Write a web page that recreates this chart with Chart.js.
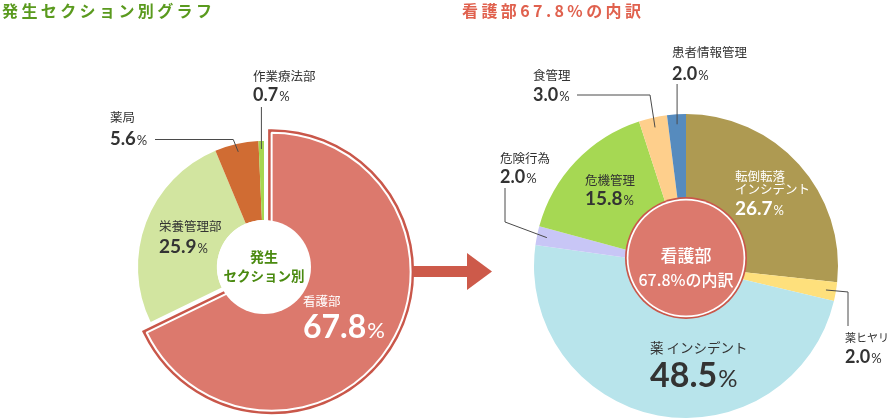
<!DOCTYPE html>
<html lang="ja">
<head>
<meta charset="utf-8">
<script src="https://cdn.jsdelivr.net/npm/chart.js@4.4.1/dist/chart.umd.min.js"></script>
<style>
  html, body { margin: 0; padding: 0; background: #fff; }
  #wrap { position: relative; width: 889px; height: 418px; overflow: hidden; }
  #wrap canvas { position: absolute; left: 0; top: 0; }
  .title { position: absolute; top: 0; font-family: "Noto Sans CJK JP", sans-serif; font-weight: 700;
           font-size: 16px; line-height: 20px; letter-spacing: 3.4px; white-space: nowrap; }
</style>
</head>
<body>
<div id="wrap">
  <canvas id="chartLeft" width="889" height="418"></canvas>
  <canvas id="chartRight" width="889" height="418"></canvas>
  <div class="title" id="titleLeft" style="left:2px; color:#5a9a1e;">発生セクション別グラフ</div>
  <div class="title" id="titleRight" style="left:462px; color:#e0614e;"></div>
</div>
<script>
// 発生セクション別
var sectionLabels = ["看護部", "栄養管理部", "薬局", "作業療法部"];
var sectionValues = [67.8, 25.9, 5.6, 0.7];
var sectionColors = ["#dc796d", "#d2e5a0", "#d06c33", "#a6d650"];

// 看護部の内訳
var nurseLabels = ["転倒転落\nインシデント", "薬ヒヤリ", "薬 インシデント", "危険行為", "危機管理", "食管理", "患者情報管理"];
var nurseValues = [26.7, 2.0, 48.5, 2.0, 15.8, 3.0, 2.0];
var nurseColors = ["#ae9a52", "#fee07c", "#b8e4eb", "#c8c6f6", "#a6d853", "#fecf8c", "#568bbe"];

// ラベルの位置 (レイアウト)
var leftLabelPos = [
  { x: 303, nameY: 306, valueY: 338, valueSize: 32, color: "#ffffff" },
  { x: 159, nameY: 231, valueY: 253, valueSize: 19, color: "#333333" },
  { x: 110, nameY: 122, valueY: 145, valueSize: 18.5, color: "#333333", leader: "side", lineX: 155, lineY: 139.5 },
  { x: 253, nameY: 81, valueY: 101, valueSize: 18, color: "#333333", leader: "up", lineY: 107 }
];
var rightLabelPos = [
  { x: 735, nameY: 181, valueY: 215, valueSize: 19, color: "#ffffff" },
  { x: 845, nameY: 342, valueY: 363, valueSize: 18, color: "#333333", nameSize: 11, leader: "right", lineX: 848, lineY: 326 },
  { x: 650, nameY: 353, valueY: 387, valueSize: 34, color: "#333333", nameSize: 13.5 },
  { x: 500, nameY: 163, valueY: 183, valueSize: 18, color: "#333333", leader: "down", lineX: 505, lineY: 188, lineY2: 222 },
  { x: 585, nameY: 185, valueY: 205, valueSize: 19, color: "#333333" },
  { x: 533, nameY: 80, valueY: 101, valueSize: 18, color: "#333333", leader: "side", lineX: 577, lineY: 95 },
  { x: 672, nameY: 57, valueY: 80, valueSize: 18, color: "#333333", leader: "up", lineY: 84 }
];

document.getElementById("titleRight").textContent = sectionLabels[0] + sectionValues[0].toFixed(1) + "%の内訳";

function drawName(ctx, text, x, y, size, color) {
  ctx.font = size + 'px "Noto Sans CJK JP"';
  ctx.fillStyle = color;
  ctx.textAlign = "left";
  ctx.textBaseline = "alphabetic";
  var lines = text.split("\n");
  for (var i = 0; i < lines.length; i++) {
    ctx.fillText(lines[i], x, y + i * 13);
  }
}

function drawValue(ctx, value, x, y, size, color) {
  var num = value.toFixed(1);
  ctx.font = "bold " + size + "px Lato";
  ctx.fillStyle = color;
  ctx.textAlign = "left";
  ctx.textBaseline = "alphabetic";
  ctx.fillText(num, x, y);
  var w = ctx.measureText(num).width;
  ctx.font = Math.round(size * 0.7) + "px Lato";
  ctx.fillText("%", x + w + 1, y);
}

function slicePoint(arc, inset) {
  var mid = (arc.startAngle + arc.endAngle) / 2;
  var r = arc.outerRadius - inset;
  return { x: arc.x + Math.cos(mid) * r, y: arc.y + Math.sin(mid) * r };
}

function drawLeader(ctx, p, end) {
  ctx.save();
  ctx.strokeStyle = "#4a4a4a";
  ctx.lineWidth = 1;
  ctx.beginPath();
  if (p.leader === "up") {
    ctx.moveTo(end.x, p.lineY);
    ctx.lineTo(end.x, end.y);
  } else if (p.leader === "side") {
    ctx.moveTo(p.lineX, p.lineY);
    ctx.lineTo(end.x - 5, p.lineY);
    ctx.lineTo(end.x, end.y);
  } else if (p.leader === "down") {
    ctx.moveTo(p.lineX, p.lineY);
    ctx.lineTo(p.lineX, p.lineY2);
    ctx.lineTo(end.x, end.y);
  } else if (p.leader === "right") {
    ctx.moveTo(end.x, end.y);
    ctx.lineTo(p.lineX, end.y + 2);
    ctx.lineTo(p.lineX, p.lineY);
  }
  ctx.stroke();
  ctx.restore();
}

function drawLabels(chart, labels, values, positions, inset) {
  var ctx = chart.ctx;
  var arcs = chart.getDatasetMeta(0).data;
  for (var i = 0; i < labels.length; i++) {
    var p = positions[i];
    if (p.leader) {
      drawLeader(ctx, p, slicePoint(arcs[i], inset));
    }
    drawName(ctx, labels[i], p.x, p.nameY, p.nameSize || 12.5, p.color);
    drawValue(ctx, values[i], p.x, p.valueY, p.valueSize, p.color);
  }
}

// 左のグラフ：看護部を切り出して大きく
var leftPlugin = {
  id: "leftPlugin",
  afterDatasetsUpdate: function(chart) {
    var arc = chart.getDatasetMeta(0).data[0];
    var mid = (arc.startAngle + arc.endAngle) / 2;
    chart.$center = { x: arc.x, y: arc.y, r: arc.innerRadius };
    arc.x = arc.x + Math.cos(mid) * 9;
    arc.y = arc.y + Math.sin(mid) * 9;
    arc.outerRadius = arc.outerRadius + 13;
    arc.innerRadius = 10;
  },
  beforeDatasetsDraw: function(chart) {
    var ctx = chart.ctx;
    var arc = chart.getDatasetMeta(0).data[0];
    ctx.save();
    ctx.beginPath();
    ctx.moveTo(arc.x, arc.y);
    ctx.arc(arc.x, arc.y, arc.outerRadius, arc.startAngle, arc.endAngle);
    ctx.closePath();
    ctx.lineWidth = 7;
    ctx.lineJoin = "miter";
    ctx.strokeStyle = "#c9574a";
    ctx.stroke();
    ctx.restore();
  },
  afterDatasetsDraw: function(chart) {
    var ctx = chart.ctx;
    var c = chart.$center;
    ctx.save();
    ctx.fillStyle = "#ffffff";
    ctx.beginPath();
    ctx.arc(c.x, c.y, c.r, 0, Math.PI * 2);
    ctx.fill();
    ctx.fillStyle = "#4a8a10";
    ctx.textAlign = "center";
    ctx.font = 'bold 14px "Noto Sans CJK JP"';
    ctx.fillText("発生", c.x, 262);
    ctx.font = 'bold 13.5px "Noto Sans CJK JP"';
    ctx.fillText("セクション別", c.x, 281);

    // 矢印
    ctx.fillStyle = "#cd5a4a";
    ctx.fillRect(413, 266, 55, 11);
    ctx.beginPath();
    ctx.moveTo(467, 253);
    ctx.lineTo(492, 271.5);
    ctx.lineTo(467, 290);
    ctx.closePath();
    ctx.fill();
    ctx.restore();

    drawLabels(chart, sectionLabels, sectionValues, leftLabelPos, 8);
  }
};

// 右のグラフ：中央の円
var rightPlugin = {
  id: "rightPlugin",
  afterDatasetsDraw: function(chart) {
    var ctx = chart.ctx;
    var arc = chart.getDatasetMeta(0).data[0];
    var cx = arc.x, cy = arc.y - 8;
    ctx.save();
    ctx.beginPath();
    ctx.arc(cx, cy, 61, 0, Math.PI * 2);
    ctx.fillStyle = "#c9574a";
    ctx.fill();
    ctx.beginPath();
    ctx.arc(cx, cy, 59.3, 0, Math.PI * 2);
    ctx.fillStyle = "#ffffff";
    ctx.fill();
    ctx.beginPath();
    ctx.arc(cx, cy, 57.6, 0, Math.PI * 2);
    ctx.fillStyle = sectionColors[0];
    ctx.fill();
    ctx.fillStyle = "#ffffff";
    ctx.textAlign = "center";
    ctx.font = '500 17px "Noto Sans CJK JP"';
    ctx.fillText(sectionLabels[0], cx, 262);
    ctx.font = '500 16px "Noto Sans CJK JP"';
    ctx.fillText(sectionValues[0].toFixed(1) + "%の内訳", cx, 286);
    ctx.restore();

    drawLabels(chart, nurseLabels, nurseValues, rightLabelPos, 10);
  }
};

var chartLeft = new Chart(document.getElementById("chartLeft"), {
  type: "doughnut",
  data: {
    labels: sectionLabels,
    datasets: [{
      data: sectionValues,
      backgroundColor: sectionColors,
      borderColor: "#ffffff",
      borderWidth: [2, 0, 0, 0]
    }]
  },
  options: {
    responsive: false,
    animation: false,
    events: [],
    layout: { padding: { left: 0, right: 361, top: 116, bottom: 0 } },
    radius: 126,
    cutout: "37.3%",
    plugins: { legend: { display: false }, tooltip: { enabled: false } }
  },
  plugins: [leftPlugin]
});

var chartRight = new Chart(document.getElementById("chartRight"), {
  type: "pie",
  data: {
    labels: nurseLabels,
    datasets: [{
      data: nurseValues,
      backgroundColor: nurseColors,
      borderWidth: 0
    }]
  },
  options: {
    responsive: false,
    animation: false,
    events: [],
    layout: { padding: { left: 483, right: 0, top: 114, bottom: 0 } },
    radius: 152,
    plugins: { legend: { display: false }, tooltip: { enabled: false } }
  },
  plugins: [rightPlugin]
});
</script>
</body>
</html>
